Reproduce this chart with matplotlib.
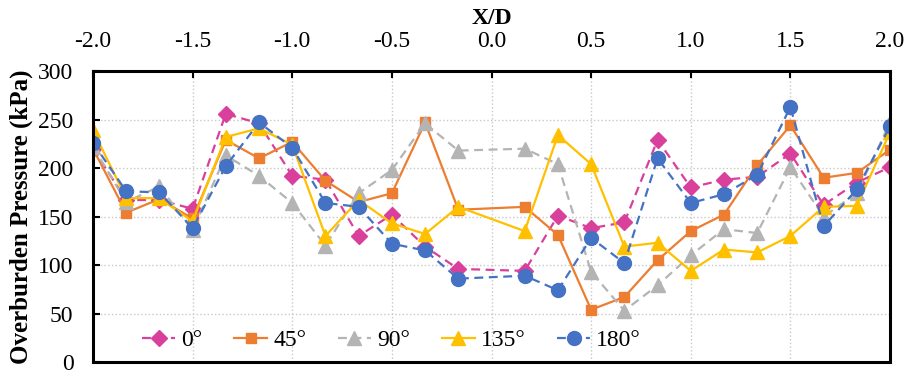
import matplotlib.pyplot as plt
import numpy as np

# X/D stations (no gauge at 0.0)
xd = [-2.0, -11/6, -10/6, -1.5, -8/6, -7/6, -1.0, -5/6, -4/6, -0.5, -2/6, -1/6,
      1/6, 2/6, 0.5, 4/6, 5/6, 1.0, 7/6, 8/6, 1.5, 10/6, 11/6, 2.0]

p_0 = [220, 167, 167, 158, 256, 246, 192, 188, 130, 152, 119, 96,
       94, 151, 138, 144, 229, 180, 188, 191, 215, 162, 185, 201]
p_45 = [220, 154, 168, 148, 229, 210, 227, 187, 165, 174, 247, 157,
        160, 131, 54, 67, 105, 135, 152, 203, 244, 190, 195, 219]
p_90 = [222, 165, 181, 136, 213, 192, 164, 120, 174, 198, 246, 218,
        220, 204, 93, 53, 79, 110, 137, 133, 201, 150, 174, 247]
p_135 = [239, 169, 169, 145, 232, 241, 224, 130, 167, 143, 132, 160,
         135, 234, 204, 119, 123, 94, 116, 113, 130, 160, 161, 237]
p_180 = [226, 176, 175, 138, 202, 247, 221, 164, 160, 122, 115, 86,
         89, 74, 128, 102, 210, 164, 173, 193, 263, 140, 178, 243]

labels = ['0°', '45°', '90°', '135°', '180°']
series = [p_0, p_45, p_90, p_135, p_180]
colors = ['#D9409B', '#ED7D31', '#B4B4B4', '#FFC000', '#4472C4']
markers = ['D', 's', '^', '^', 'o']
msizes = [8, 7.5, 9.5, 9.5, 10]
styles = ['--', '-', '--', '-', '--']

plt.rcParams['font.family'] = ['Liberation Serif', 'DejaVu Serif']

fig = plt.figure(figsize=(9.08, 3.74), dpi=100)
ax = fig.add_axes([0.1024, 0.032, 0.8778, 0.778])

for y, lab, c, m, ms, ls in zip(series, labels, colors, markers, msizes, styles):
    ax.plot(xd, y, color=c, marker=m, markersize=ms, linestyle=ls,
            linewidth=1.6, label=lab, dashes=(4, 2.5) if ls == '--' else (None, None))

ax.set_xlim(-2.0, 2.0)
ax.set_ylim(0, 300)
ax.set_xticks(np.arange(-2.0, 2.01, 0.5))
ax.set_xticklabels([f'{v:.1f}' for v in np.arange(-2.0, 2.01, 0.5)])
ax.set_yticks(np.arange(0, 301, 50))
ax.xaxis.tick_top()
ax.xaxis.set_label_position('top')
ax.tick_params(axis='both', direction='in', labelsize=17, width=1.5, length=5, pad=14)
ax.set_xlabel('X/D', fontsize=17, fontweight='bold', labelpad=5)
ax.set_ylabel('Overburden Pressure (kPa)', fontsize=18, fontweight='bold', labelpad=4)
ax.grid(True, color='#C8C8C8', linestyle=':', linewidth=1)
ax.set_axisbelow(True)
for s in ax.spines.values():
    s.set_linewidth(2.2)

ax.legend(loc='lower left', ncol=5, frameon=False, fontsize=17,
          bbox_to_anchor=(0.035, -0.035), handlelength=1.4, columnspacing=1.35,
          handletextpad=0.25)

fig.savefig('out.png', dpi=100)
